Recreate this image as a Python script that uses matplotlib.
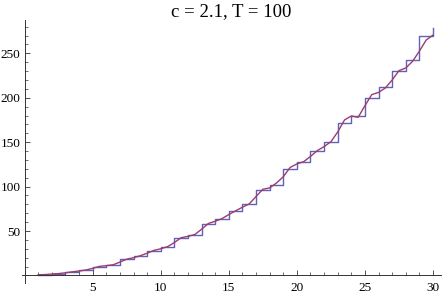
import numpy as np
import matplotlib.pyplot as plt
from matplotlib.ticker import MultipleLocator

# staircase values (one level per integer n = 1..30)
step_x = list(range(1, 31))
step_y = [1, 2, 4, 6, 10, 12, 18, 22, 28, 32,
          42, 46, 58, 64, 72, 80, 96, 102, 120, 128,
          140, 150, 172, 180, 200, 212, 230, 242, 270, 278]

# smooth curve, sampled every half unit from x = 1 to 30
curve_x = [1 + 0.5 * i for i in range(59)]
curve_y = [0.8, 1.0, 1.6, 2.1, 3.0, 4.1, 5.0, 6.1, 8.0, 10.2,
           11.0, 12.0, 15.0, 18.3, 20.0, 22.2, 25.0, 28.2, 30.0, 32.4,
           37.0, 42.5, 44.0, 46.0, 52.0, 58.5, 61.0, 64.0, 68.5, 72.7,
           76.8, 80.5, 88.8, 97.0, 98.5, 104.0, 111.0, 121.5, 125.5, 128.0,
           134.0, 140.5, 145.0, 150.5, 161.5, 175.0, 179.5, 178.0, 191.0, 203.5,
           206.0, 211.0, 220.0, 230.5, 233.5, 241.0, 252.5, 265.0, 270.5]

title = "c = 2.1, T = 100"

plt.rcParams['font.family'] = ['Liberation Serif', 'DejaVu Serif']

fig = plt.figure(figsize=(4.43, 2.95), dpi=100)
ax = fig.add_axes([22 / 443, 12 / 295, 418.5 / 443, 263 / 295])

ax.plot(step_x, step_y, drawstyle='steps-post', color='#4545a8', lw=1.0, alpha=0.85)
ax.plot(curve_x, curve_y, color='#993d71', lw=1.0)

ax.set_xlim(-0.19, 30.55)
ax.set_ylim(-8.5, 287.5)

# Mathematica-style axes crossing at the origin
for side in ['top', 'right']:
    ax.spines[side].set_visible(False)
ax.spines['left'].set_position(('data', 0))
ax.spines['bottom'].set_position(('data', 0))
for side in ['left', 'bottom']:
    ax.spines[side].set_color('#333333')
    ax.spines[side].set_linewidth(0.7)

ax.set_xticks([5, 10, 15, 20, 25, 30])
ax.set_yticks([50, 100, 150, 200, 250])
ax.xaxis.set_minor_locator(MultipleLocator(1))
ax.yaxis.set_minor_locator(MultipleLocator(10))
ax.tick_params(which='major', direction='in', length=3.6, width=0.6, color='#333333',
               labelsize=9.5)
ax.tick_params(which='minor', direction='in', length=2.0, width=0.5, color='#333333')
ax.tick_params(axis='x', which='major', pad=4.5)
ax.tick_params(axis='y', which='major', pad=3.0)

ax.set_title(title, fontsize=13.5, pad=3)

fig.savefig('out.png', dpi=100)
